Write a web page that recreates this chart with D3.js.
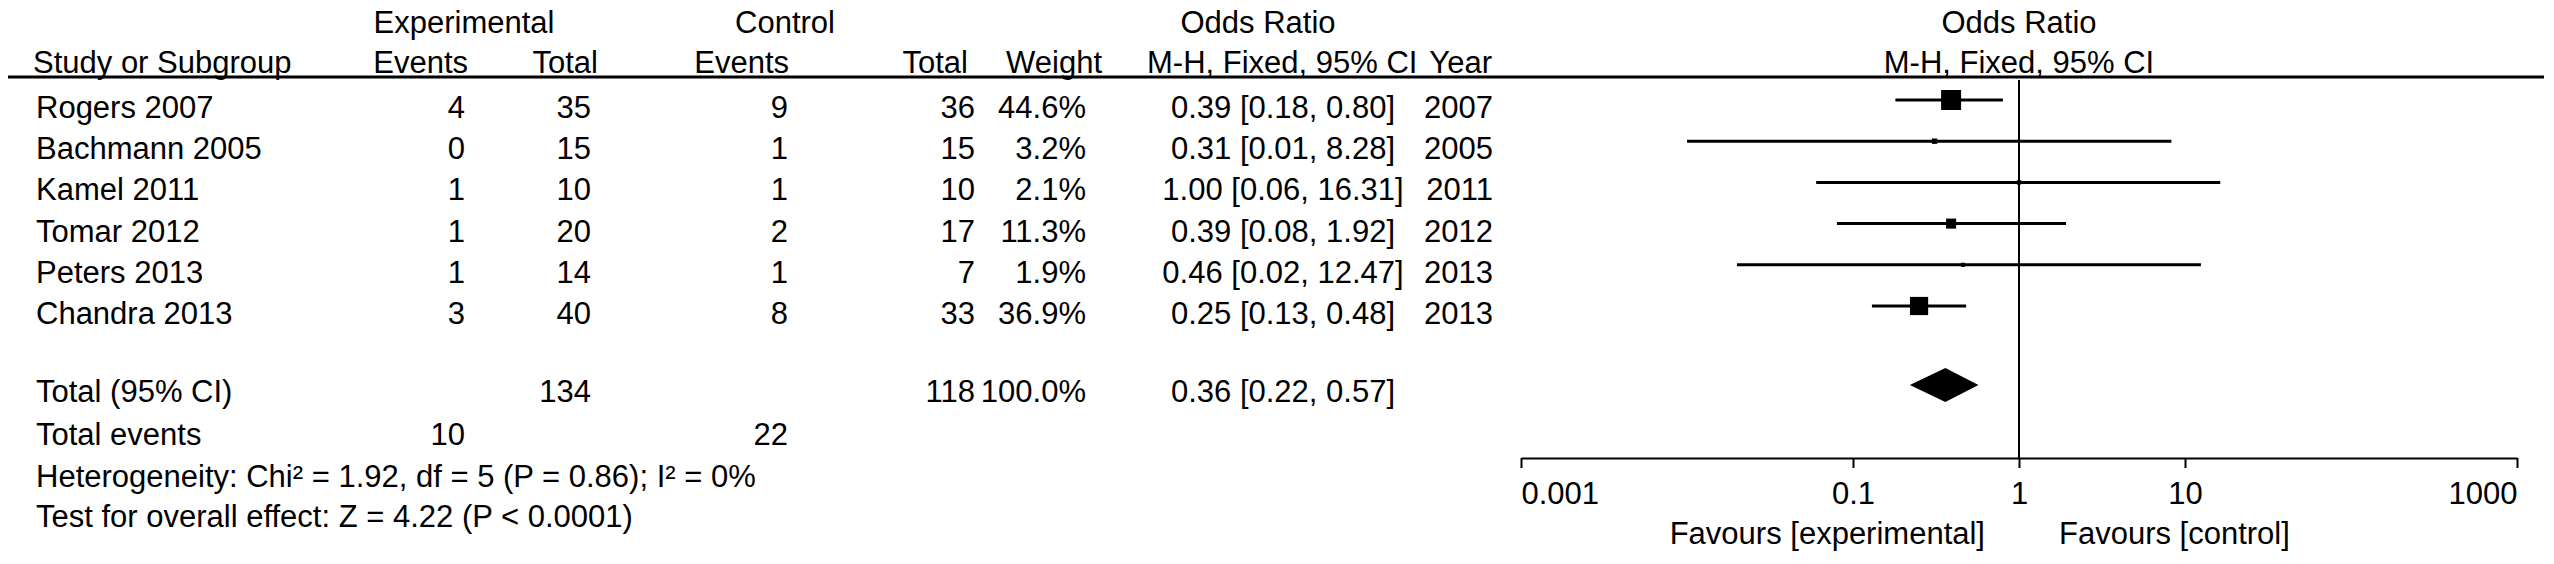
<!DOCTYPE html>
<html><head><meta charset="utf-8">
<script src="https://cdn.jsdelivr.net/npm/d3@7"></script>
<style>
html,body{margin:0;padding:0;background:#fff;}
svg{display:block;}
text{font-family:"Liberation Sans",Arial,sans-serif;font-size:31px;fill:#000;}
</style>
</head><body>
<svg id="chart" width="2554" height="564"></svg>
<script>
// ---------------- data ----------------
const groupLabels = ["Experimental", "Control"];
const studies = ["Rogers 2007", "Bachmann 2005", "Kamel 2011", "Tomar 2012", "Peters 2013", "Chandra 2013"];
const years = [2007, 2005, 2011, 2012, 2013, 2013];
const events1 = [4, 0, 1, 1, 1, 3];
const total1 = [35, 15, 10, 20, 14, 40];
const events2 = [9, 1, 1, 2, 1, 8];
const total2 = [36, 15, 10, 17, 7, 33];
const weights = [44.6, 3.2, 2.1, 11.3, 1.9, 36.9];
const oddsRatios = [0.39, 0.31, 1.00, 0.39, 0.46, 0.25];
const ciLower = [0.18, 0.01, 0.06, 0.08, 0.02, 0.13];
const ciUpper = [0.80, 8.28, 16.31, 1.92, 12.47, 0.48];
const pooledEstimate = [0.36, 0.22, 0.57];   // OR, lower, upper
const totalParticipants = [134, 118];
const totalEvents = [10, 22];
const axisTicks = [0.001, 0.1, 1, 10, 1000];
const favourLabels = ["Favours [experimental]", "Favours [control]"];
const heterogeneityText = "Heterogeneity: Chi\u00B2 = 1.92, df = 5 (P = 0.86); I\u00B2 = 0%";
const overallEffectText = "Test for overall effect: Z = 4.22 (P < 0.0001)";

// ---------------- layout ----------------
const svg = d3.select("#chart");
svg.append("rect").attr("width", 2554).attr("height", 564).attr("fill", "#fff");

const fmt2 = d3.format(".2f");
const fmtW = d => d3.format(".1f")(d) + "%";
const ciText = (o, l, u) => `${fmt2(o)} [${fmt2(l)}, ${fmt2(u)}]`;

const x = d3.scaleLog().domain([0.001, 1000]).range([1521, 2517]);
const rowY = d3.scalePoint().domain(d3.range(studies.length)).range([100, 306]);
const boxSize = d3.scaleSqrt().domain([0, d3.max(weights)]).range([0, 20]);

const col = {label: 36, ev1: 465, tot1: 591, ev2: 788, tot2: 975, wt: 1086, ci: 1283, yr: 1493};
const baseOff = 18;

function txt(s, xx, yy, anchor = "start", weight = "normal") {
  return svg.append("text").attr("x", xx).attr("y", yy).attr("text-anchor", anchor)
    .attr("font-weight", weight).text(s);
}

// header row 1
txt(groupLabels[0], 464, 33, "middle");
txt(groupLabels[1], 785, 33, "middle");
txt("Odds Ratio", 1258, 33, "middle");
txt("Odds Ratio", x(1), 33, "middle");
// header row 2
txt("Study or Subgroup", 33, 73);
txt("Events", 468, 73, "end");
txt("Total", 598, 73, "end");
txt("Events", 789, 73, "end");
txt("Total", 968, 73, "end");
txt("Weight", 1102, 73, "end");
txt("M-H, Fixed, 95% CI", 1147, 73);
txt("Year", 1492, 73, "end");
txt("M-H, Fixed, 95% CI", x(1), 73, "middle");

svg.append("line").attr("x1", 8).attr("x2", 2544).attr("y1", 77).attr("y2", 77)
  .attr("stroke", "#000").attr("stroke-width", 3);

// null line
svg.append("line").attr("x1", x(1)).attr("x2", x(1)).attr("y1", 80).attr("y2", 458)
  .attr("stroke", "#000").attr("stroke-width", 2);

// study rows
studies.forEach((s, i) => {
  const cy = rowY(i);
  const by = cy + baseOff;
  txt(s, col.label, by);
  txt(events1[i], col.ev1, by, "end");
  txt(total1[i], col.tot1, by, "end");
  txt(events2[i], col.ev2, by, "end");
  txt(total2[i], col.tot2, by, "end");
  txt(fmtW(weights[i]), col.wt, by, "end");
  txt(ciText(oddsRatios[i], ciLower[i], ciUpper[i]), col.ci, by, "middle");
  txt(years[i], col.yr, by, "end");

  svg.append("line").attr("x1", x(ciLower[i])).attr("x2", x(ciUpper[i]))
    .attr("y1", cy).attr("y2", cy).attr("stroke", "#000").attr("stroke-width", 3);
  const b = boxSize(weights[i]);
  svg.append("rect").attr("x", x(oddsRatios[i]) - b / 2).attr("y", cy - b / 2)
    .attr("width", b).attr("height", b).attr("fill", "#000");
});

// total row
const totY = 385;
txt("Total (95% CI)", col.label, totY + 17);
txt(totalParticipants[0], col.tot1, totY + 17, "end");
txt(totalParticipants[1], col.tot2, totY + 17, "end");
txt(fmtW(d3.sum(weights)), col.wt, totY + 17, "end");
txt(ciText(...pooledEstimate), col.ci, totY + 17, "middle");
const [po, pl, pu] = pooledEstimate;
svg.append("path")
  .attr("d", `M${x(pl)},${totY}L${x(po)},${totY - 17}L${x(pu)},${totY}L${x(po)},${totY + 17}Z`)
  .attr("fill", "#000");

txt("Total events", col.label, 445);
txt(totalEvents[0], col.ev1, 445, "end");
txt(totalEvents[1], col.ev2, 445, "end");
txt(heterogeneityText, col.label, 487);
txt(overallEffectText, col.label, 527);

// axis
const axisG = svg.append("g").attr("transform", "translate(0,458)")
  .call(d3.axisBottom(x).tickValues(axisTicks).tickFormat(d3.format("~g")).tickSize(10).tickSizeOuter(0).tickPadding(14));
axisG.select(".domain").attr("stroke", "#000").attr("stroke-width", 2);
axisG.selectAll(".tick line").attr("stroke", "#000").attr("stroke-width", 2);
axisG.selectAll(".tick text").attr("font-size", 31).attr("font-family", null).attr("fill", "#000");
axisG.selectAll(".tick text").filter(d => d === axisTicks[0]).attr("text-anchor", "start");
axisG.selectAll(".tick text").filter(d => d === axisTicks[axisTicks.length - 1]).attr("text-anchor", "end");

txt(favourLabels[0], x(1) - 34, 544, "end");
txt(favourLabels[1], x(1) + 40, 544, "start");
</script>
</body></html>
